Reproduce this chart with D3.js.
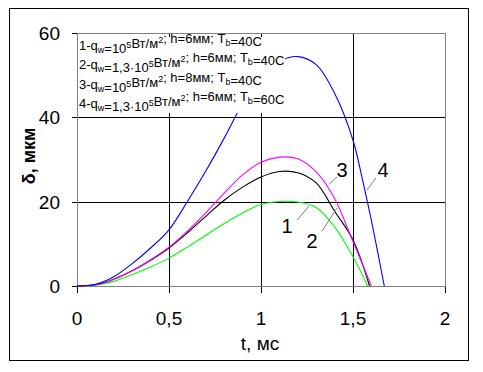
<!DOCTYPE html>
<html lang="ru">
<head>
<meta charset="UTF-8">
<title>delta(t)</title>
<script src="https://d3js.org/d3.v7.min.js"></script>
<style>
  body { margin: 0; background: #fff; font-family: Arial, "Liberation Sans", sans-serif; }
  .grid { stroke: #000; stroke-width: 1; shape-rendering: crispEdges; }
  .frame { fill: none; stroke: #808080; stroke-width: 1; shape-rendering: crispEdges; }
  .curve { fill: none; stroke-width: 1.1; }
  .tick-label { font-size: 19px; fill: #000; }
  .leader { stroke: #808080; stroke-width: 1; }
</style>
</head>
<body>
<div id="chart"></div>
<script>
// time, ms
const t1 = [0, 0.1, 0.2, 0.3, 0.4, 0.5, 0.6, 0.7, 0.8, 0.9, 1.0, 1.1, 1.2, 1.3, 1.4, 1.5, 1.58];
const d1 = [0, 0.2, 1.1, 2.7, 4.5, 6.6, 9.2, 12, 14.8, 17.3, 19.3, 20, 19.9, 18.6, 14, 6.9, 0];

const t2 = [0, 0.1, 0.2, 0.3, 0.4, 0.5, 0.6, 0.7, 0.8, 0.9, 1.0, 1.1, 1.2, 1.3, 1.4, 1.5, 1.59];
const d2 = [0, 0.3, 1.6, 3.6, 6.1, 9, 12.6, 16.5, 20.3, 23.4, 25.8, 27.1, 26.8, 24.4, 17.7, 10.9, 0];

const t3 = [0, 0.1, 0.2, 0.3, 0.4, 0.5, 0.6, 0.7, 0.8, 0.9, 1.0, 1.1, 1.2, 1.3, 1.4, 1.5, 1.6];
const d3v = [0, 0.3, 1.6, 3.6, 6.2, 9.2, 13, 17.3, 22, 26.3, 29.3, 30.5, 30.1, 27, 20.7, 10.5, 0];

const t4 = [0, 0.1, 0.2, 0.3, 0.4, 0.5, 0.6, 0.7, 0.8, 0.9, 1.0, 1.1, 1.2, 1.3, 1.4, 1.5, 1.55, 1.6, 1.67];
const d4 = [0, 0.4, 2.2, 5.3, 9, 13.3, 20, 27.2, 35, 43.2, 49.6, 53.2, 54.3, 52.4, 45.6, 34.5, 25.5, 15.5, 0];

const xTicks = [0, 0.5, 1, 1.5, 2];
const yTicks = [0, 20, 40, 60];
const xGrid = [0.5, 1, 1.5];
const yGrid = [20, 40];

const colors = ["#00ff00", "#000000", "#ff00ff", "#0000ff"];

const legendLines = [
  [["1-q", 0], ["w", -1], ["=10", 0], ["5", 1], ["Вт/м", 0], ["2", 1], ["; h=6мм; T", 0], ["b", -1], ["=40C", 0]],
  [["2-q", 0], ["w", -1], ["=1,3·10", 0], ["5", 1], ["Вт/м", 0], ["2", 1], ["; h=6мм; T", 0], ["b", -1], ["=40C", 0]],
  [["3-q", 0], ["w", -1], ["=10", 0], ["5", 1], ["Вт/м", 0], ["2", 1], ["; h=8мм; T", 0], ["b", -1], ["=40C", 0]],
  [["4-q", 0], ["w", -1], ["=1,3·10", 0], ["5", 1], ["Вт/м", 0], ["2", 1], ["; h=6мм; T", 0], ["b", -1], ["=60C", 0]]
];

// curve labels with leader lines, in data units
const labels = [
  {text: "1", t: 1.141, d: 12.5, from: [1.196, 15.6], to: [1.261, 18.9]},
  {text: "2", t: 1.277, d: 9.0, from: [1.332, 13.0], to: [1.413, 18.5]},
  {text: "3", t: 1.44, d: 25.8, from: [1.37, 24.1], to: [1.413, 25.8]},
  {text: "4", t: 1.663, d: 25.8, from: [1.576, 22.7], to: [1.625, 25.6]}
];

const W = 483, H = 372;
const svg = d3.select("#chart").append("svg").attr("width", W).attr("height", H);

const x = d3.scaleLinear().domain([0, 2]).range([77, 445]);
const y = d3.scaleLinear().domain([0, 60]).range([286, 32.5]);

// outer frame
svg.append("rect").attr("x", 9.5).attr("y", 8.5).attr("width", 459).attr("height", 352)
  .attr("fill", "none").attr("stroke", "#000").attr("stroke-width", 1);

// grid
svg.selectAll(".vg").data(xGrid).enter().append("line").attr("class", "grid")
  .attr("x1", d => Math.round(x(d)) + 0.5).attr("x2", d => Math.round(x(d)) + 0.5)
  .attr("y1", y(60)).attr("y2", y(0));
svg.selectAll(".hg").data(yGrid).enter().append("line").attr("class", "grid")
  .attr("x1", x(0) - 5).attr("x2", x(2))
  .attr("y1", d => Math.round(y(d)) + 0.5).attr("y2", d => Math.round(y(d)) + 0.5);

// ticks
svg.selectAll(".xt").data(xTicks).enter().append("line").attr("class", "grid")
  .attr("x1", d => Math.round(x(d)) + 0.5).attr("x2", d => Math.round(x(d)) + 0.5)
  .attr("y1", y(0)).attr("y2", y(0) + 7);
svg.selectAll(".yt").data(yTicks).enter().append("line").attr("class", "grid")
  .attr("x1", x(0) - 5).attr("x2", x(0))
  .attr("y1", d => Math.round(y(d)) + 0.5).attr("y2", d => Math.round(y(d)) + 0.5);

// plot frame
svg.append("rect").attr("class", "frame")
  .attr("x", Math.round(x(0)) + 0.5).attr("y", Math.round(y(60)) + 0.5)
  .attr("width", Math.round(x(2)) - Math.round(x(0)))
  .attr("height", Math.round(y(0)) - Math.round(y(60)));

// tick labels
const fmt = v => String(v).replace(".", ",");
svg.selectAll(".xl").data(xTicks).enter().append("text").attr("class", "tick-label")
  .attr("x", d => x(d)).attr("y", 325).attr("text-anchor", "middle").text(fmt);
svg.selectAll(".yl").data(yTicks).enter().append("text").attr("class", "tick-label")
  .attr("x", 60).attr("y", d => y(d) + 7).attr("text-anchor", "end").text(fmt);

// axis titles
svg.append("text").attr("x", 260).attr("y", 350).attr("text-anchor", "middle")
  .attr("font-size", 19).text("t, мс");
svg.append("text").attr("transform", "translate(35,156) rotate(-90)")
  .attr("text-anchor", "middle").attr("font-size", 18).attr("font-weight", "bold")
  .text("δ, мкм");

// curves
const line = d3.line().x(d => x(d[0])).y(d => y(d[1])).curve(d3.curveCatmullRom.alpha(0.5));
const series = [[t1, d1], [t2, d2], [t3, d3v], [t4, d4]];
svg.selectAll(".curve").data(series).enter().append("path").attr("class", "curve")
  .attr("stroke", (d, i) => colors[i])
  .attr("d", s => line(s[0].map((t, i) => [t, s[1][i]])));

// legend box
svg.append("rect").attr("x", 78).attr("y", 37).attr("width", 207).attr("height", 76).attr("fill", "#fff");
const leg = svg.append("g");
legendLines.forEach((parts, li) => {
  const tx = leg.append("text").attr("x", 79).attr("y", 50 + li * 19.3).attr("font-size", 13);
  parts.forEach(([s, k]) => {
    const ts = tx.append("tspan").text(s);
    if (k !== 0) {
      ts.attr("font-size", 9).attr("dy", k > 0 ? -5 : 3);
      // back to the baseline after the script
      tx.append("tspan").attr("dy", k > 0 ? 5 : -3).text("");
    }
  });
});

// curve labels
svg.selectAll(".leader").data(labels).enter().append("line").attr("class", "leader")
  .attr("x1", d => x(d.from[0])).attr("y1", d => y(d.from[1]))
  .attr("x2", d => x(d.to[0])).attr("y2", d => y(d.to[1]));
svg.selectAll(".clabel").data(labels).enter().append("text")
  .attr("x", d => x(d.t)).attr("y", d => y(d.d)).attr("text-anchor", "middle")
  .attr("font-size", 20).text(d => d.text);
</script>
</body>
</html>
